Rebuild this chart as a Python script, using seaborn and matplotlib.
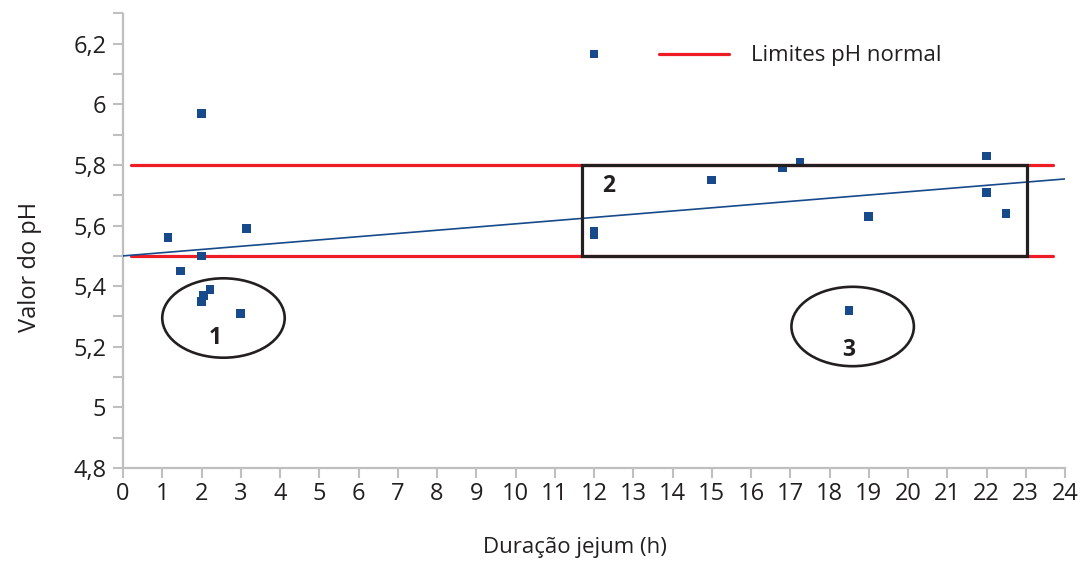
import numpy as np
import pandas as pd
import matplotlib
matplotlib.use("Agg")
import matplotlib.pyplot as plt
from matplotlib.patches import Ellipse, Rectangle
from matplotlib.lines import Line2D
from matplotlib.ticker import MultipleLocator
import seaborn as sns

# ---- data ----
fasting_hours = [1.15, 1.46, 2.0, 2.0, 2.0, 2.05, 2.22, 3.0, 3.15,
                 12.0, 12.0, 15.0, 16.8, 17.25, 18.5, 19.0, 22.0, 22.0, 22.5]
ph_values = [5.56, 5.45, 5.97, 5.50, 5.35, 5.37, 5.39, 5.31, 5.59,
             5.58, 5.57, 5.75, 5.79, 5.81, 5.32, 5.63, 5.83, 5.71, 5.64]
trend_x = [0, 24]
trend_y = [5.50, 5.754]
limit_x = [0.2, 23.7]
limit_low = [5.5, 5.5]
limit_high = [5.8, 5.8]
x_ticks = list(range(0, 25))
y_ticks = [4.8, 5.0, 5.2, 5.4, 5.6, 5.8, 6.0, 6.2]
y_tick_labels = ["4,8", "5", "5,2", "5,4", "5,6", "5,8", "6", "6,2"]
legend_label = "Limites pH normal"
x_label = "Duração jejum (h)"
y_label = "Valor do pH"
group_labels = ["1", "2", "3"]

BLUE = "#164a8a"
RED = "#ee1c25"
DARK = "#231f20"
GRAY = "#bfbfbf"
TXT = "#231f20"

sns.set_style("white")
plt.rcParams["font.family"] = ["Open Sans", "DejaVu Sans"]

fig = plt.figure(figsize=(10.81, 5.63), dpi=100)
ax = fig.add_axes([123 / 1081, 1 - 468 / 563, (1065 - 123) / 1081, (468 - 13.5) / 563])

pts = pd.DataFrame({"x": fasting_hours, "y": ph_values})
sns.scatterplot(data=pts, x="x", y="y", ax=ax, marker="s", s=38, color=BLUE,
                edgecolor="none", zorder=4)
sns.lineplot(x=trend_x, y=trend_y, ax=ax, color=BLUE, lw=1.2, zorder=3)
sns.lineplot(x=limit_x, y=limit_low, ax=ax, color=RED, lw=2.3, zorder=2)
sns.lineplot(x=limit_x, y=limit_high, ax=ax, color=RED, lw=2.3, zorder=2)

# annotations
ax.add_patch(Ellipse((2.56, 5.295), 3.12, 0.262, fill=False, ec=DARK, lw=1.9, zorder=5))
ax.add_patch(Ellipse((18.59, 5.267), 3.12, 0.262, fill=False, ec=DARK, lw=1.9, zorder=5))
ax.add_patch(Rectangle((11.69, 5.5), 23.02 - 11.69, 0.3, fill=False, ec=DARK, lw=2.3, zorder=5))
for (tx, ty), lab in zip([(2.35, 5.23), (12.38, 5.73), (18.49, 5.19)], group_labels):
    ax.text(tx, ty, lab, fontsize=16.5, fontweight="bold", color=DARK,
            ha="center", va="center")

ax.set_xlim(0, 24)
ax.set_ylim(4.8, 6.3)
ax.set_xticks(x_ticks)
ax.set_xticklabels([str(t) for t in x_ticks])
ax.set_yticks(y_ticks)
ax.set_yticklabels(y_tick_labels)
ax.yaxis.set_minor_locator(MultipleLocator(0.1))

for s in ["top", "right"]:
    ax.spines[s].set_visible(False)
for s in ["left", "bottom"]:
    ax.spines[s].set_color(GRAY)
    ax.spines[s].set_linewidth(1.6)

ax.tick_params(axis="both", which="both", direction="out", color=GRAY, width=1.5,
               length=7, labelcolor=TXT)
ax.tick_params(axis="y", which="both", left=True, labelsize=17, pad=5)
ax.tick_params(axis="x", which="major", bottom=True, labelsize=17, pad=3)

ax.set_xlabel(x_label, fontsize=16, color=TXT)
ax.set_ylabel(y_label, fontsize=17, color=TXT)
ax.xaxis.set_label_coords((575 - 123) / (1065 - 123), -(548 - 468) / (468 - 13.5))
ax.xaxis.label.set_va("center")
ax.yaxis.set_label_coords(-(123 - 30) / (1065 - 123), (468 - 267) / (468 - 13.5))
ax.yaxis.label.set_va("center")

handles = [Line2D([], [], marker="s", ls="none", color=BLUE, markersize=6.3, markeredgewidth=0),
           Line2D([], [], color=RED, lw=2.3)]
ax.legend(handles, ["", legend_label], ncol=2, frameon=False, fontsize=16,
          handlelength=3.15, handletextpad=1.0, columnspacing=0.35, borderpad=0,
          borderaxespad=0, loc="center left", bbox_to_anchor=(559 / 1081, 1 - 56 / 563),
          bbox_transform=fig.transFigure, labelcolor=TXT)

fig.savefig("out.png", dpi=100)
